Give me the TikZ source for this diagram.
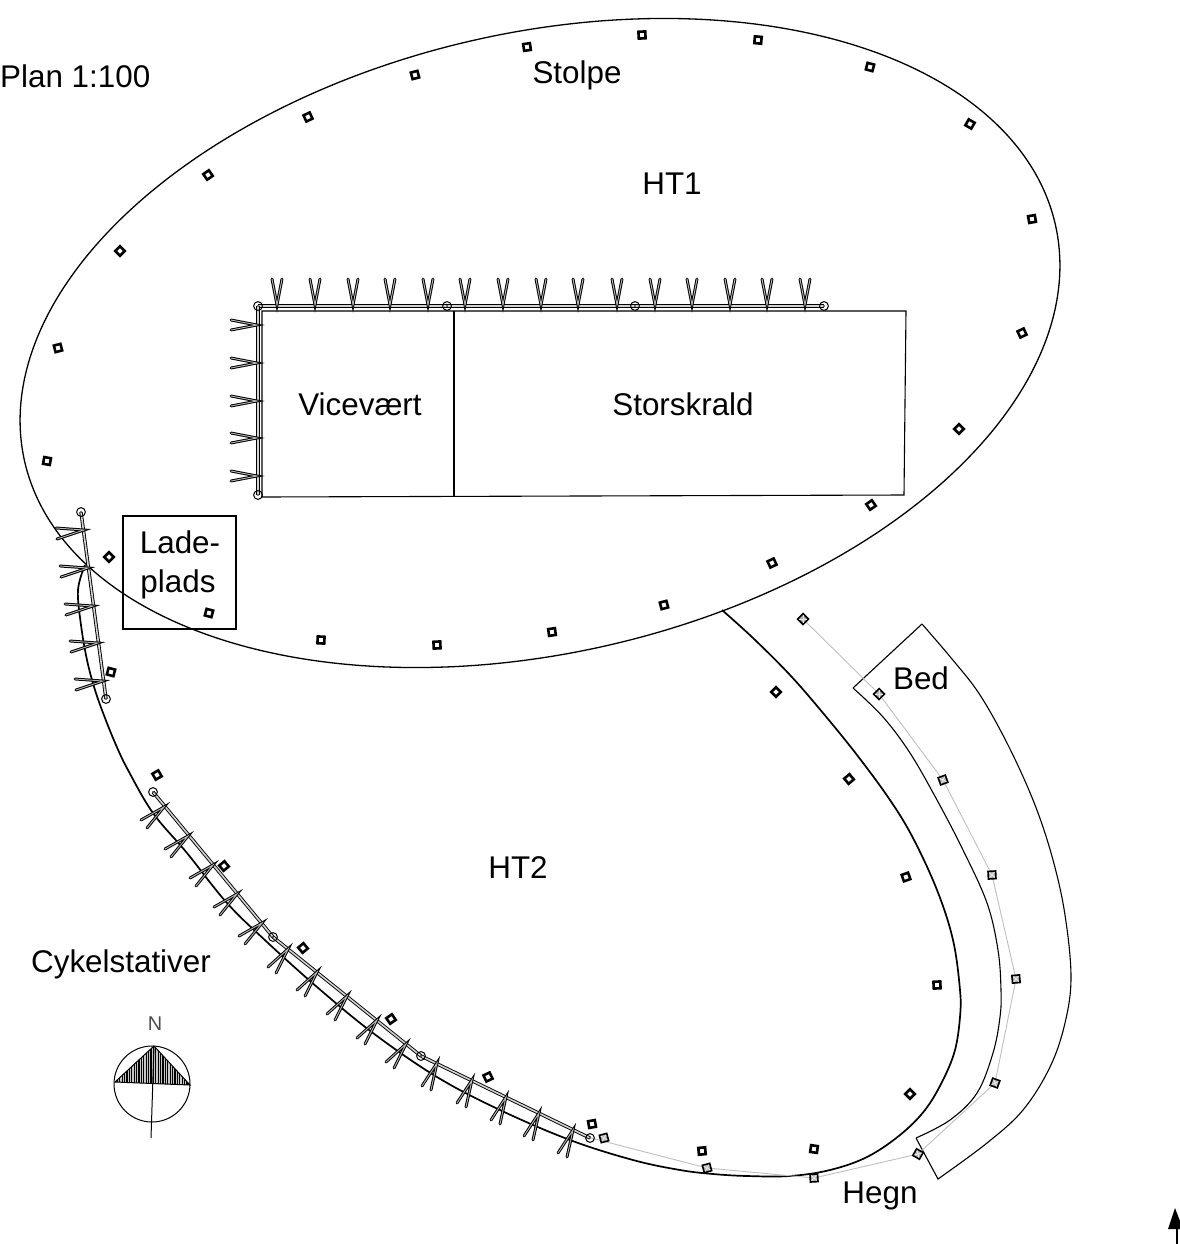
\documentclass[tikz,border=0pt]{standalone}
\usepackage{fontspec}
\setmainfont{Liberation Sans}
\tikzset{
  lbl/.style={anchor=base,inner sep=0pt,font=\fontsize{31.5}{36}\selectfont},
  outline/.style={line width=1.3bp,black},
  heavy/.style={line width=1.7bp,black},
  thin outline/.style={line width=1.1bp,black},
  rail/.style={double=gray!35,double distance=1.6bp,line width=0.9bp,black},
  rackarm/.style={double=gray!55,double distance=0.9bp,line width=1bp,black,line cap=round},
  railend/.style={line width=1bp,black},
  stolpe/.style={line width=2.6bp,black},
  fence/.style={line width=0.9bp,gray!50},
}
\newcommand{\stolpemark}[3]{\draw[stolpe,shift={(#1,#2)},rotate=#3] (-3.4,-3.4) rectangle (3.4,3.4);}
\newcommand{\fencemark}[3]{\begin{scope}[shift={(#1,#2)},rotate=#3]
  \draw[line width=1.6bp,black,fill=gray!60] (-3.8,-3.8) rectangle (3.8,3.8);
  \draw[line width=1bp,gray!20] (-2.6,-2.6) -- (2.6,2.6) (-2.6,2.6) -- (2.6,-2.6);
\end{scope}}
\newcommand{\railmark}[2]{\draw[railend,fill=none] (#1,#2) circle (4.4); \fill (#1,#2) circle (0.9);}
\begin{document}
\begin{tikzpicture}[x=1bp,y=-1bp]
\useasboundingbox[fill=white] (0,0) rectangle (1180,1244);
% HT1
\draw[outline] plot[variable=\t,domain=0:360,samples=200,smooth]
  ({540+529*cos(\t)*0.974+310*sin(\t)*0.225},{343-529*cos(\t)*0.225+310*sin(\t)*0.974}) -- cycle;
% HT2
\draw[heavy] plot[smooth,tension=0.6] coordinates {(722,610) (753,638) (790,675) (823,713) (857,755) (890,800) (913,838) (937,890) (953,940) (960,990) (960,1017) (955,1050) (943,1080) (925,1110) (900,1135) (867,1157) (830,1170) (790,1176) (747,1176) (713,1174) (680,1170) (633,1160) (570,1140) (500,1110) (437,1077) (373,1033) (317,987) (267,942) (227,903) (187,853) (153,813) (128,770) (116,745) (105,718) (95,690) (87,660) (81,625) (78,590) (85,565)};
% Bed
\draw[thin outline] (853,688) -- (922,624) plot[smooth,tension=0.6] coordinates {(922,624) (952,659) (980,695) (1009,747) (1035,805) (1053,860) (1065,915) (1071,977) (1065,1023) (1050,1067) (1023,1110) (987,1143) (938,1179)} -- (916,1138) plot[smooth,tension=0.6] coordinates {(916,1138) (950,1120) (977,1093) (993,1053) (1000,1017) (1001,990) (998,950) (987,903) (963,850) (937,800) (910,753) (883,717) (853,688)};
% buildings
\draw[thin outline] (262,311) -- (906,311) -- (904,495) -- (262,497) -- cycle;
\draw[heavy] (454,311) -- (454,497);
\draw[outline] (123,516) rectangle (236,629);
% fence
\draw[fence] (591,1138) -- (707,1168) -- (814,1178) -- (918,1154) -- (995,1083) -- (1016,979) -- (992,875) -- (943,780) -- (879,694) -- (803,619);
\foreach \x/\y/\a in {604/1138/15,707/1168/15,814/1178/3,918/1154/-30,995/1083/-20,1016/979/5,992/875/3,943/780/20,879/694/45,803/619/45}
  {\fencemark{\x}{\y}{\a}}
% poles
\foreach \x/\y/\a in {527/47/8,642/35/3,758/40/-5,870/67/-15,970/124/-30,1032/219/10,1022/333/25,959/429/45,871/505/35,772/563/25,664/605/15,552/632/8,437/645/3,321/640/-3,209/613/-15,109/557/-45,47/461/-10,58/348/15,120/251/45,208/175/35,308/117/25,415/75/15,776/692/45,849/779/40,906/877/20,937/985/3,910/1094/45,814/1149/-8,702/1151/5,592/1124/10,488/1077/25,391/1019/35,303/948/40,224/866/40,157/775/30,111/672/-15}
  {\stolpemark{\x}{\y}{\a}}
% rails
\draw[rail] (258,306) -- (824,306);
\draw[rail] (258,306) -- (258,495);
\draw[rail] (81,512) -- (106,699);
\draw[rail] (153,792) -- (273,937);
\draw[rail] (273,937) -- (421,1056);
\draw[rail] (421,1056) -- (590,1138);
% racks
\foreach \x in {277,315,353,390,428,465,503,541,578,617,655,692,730,767,805}
  {\draw[rackarm] (\x-5,279) -- (\x,305) -- (\x+5,279);}
\foreach \y in {325,363,401,438,476}
  {\draw[rackarm] (231,\y-5) -- (257,\y) -- (231,\y+5);}
\foreach \x/\y in {84/530,88/568,93/606,98/643,103/681}
  {\draw[rackarm] (\x-28,\y-2) -- (\x,\y) -- (\x-27,\y+9);}
\foreach \x/\y in {164/807,188/836,213/865,237/894,262/923}
  {\draw[rackarm] (\x-23,\y+13) -- (\x,\y) -- (\x-17,\y+21);}
\foreach \x/\y in {288/949,317/972,347/996,377/1020,406/1044}
  {\draw[rackarm] (\x-20,\y+18) -- (\x,\y) -- (\x-12,\y+24);}
\foreach \x/\y in {437/1063,472/1080,506/1097,539/1113,573/1130}
  {\draw[rackarm] (\x-15,\y+23) -- (\x,\y) -- (\x-6,\y+27);}
\foreach \x/\y in {258/306,447/306,635/306,824/306,258/495,81/512,106/699,153/792,273/937,421/1056,590/1138}
  {\railmark{\x}{\y}}
% compass
\begin{scope}
\clip (154,1046) -- (115,1082) -- (190,1085) -- cycle;
\fill[gray!45] (110,1040) rectangle (195,1090);
\foreach \i in {0,...,32} {\draw[line width=1.2bp,black] (115+\i*2.4,1040) -- (115+\i*2.4,1090);}
\end{scope}
\draw[line width=1bp] (154,1046) -- (115,1082) -- (190,1085) -- cycle;
\draw[line width=1bp] (152,1084) circle (38);
\draw[line width=1bp] (154,1046) -- (151,1138);
\node[anchor=base,inner sep=0pt,text=black!70,font=\fontsize{20}{22}\selectfont] (north) at (155,1030) {N};
% north arrow
\fill (1175,1208) -- (1168,1229) -- (1183,1229) -- cycle;
\draw[line width=2bp] (1176.5,1229) -- (1176.5,1244);
% labels
\node[lbl,anchor=base west] (plan) at (0,87) {Plan 1:100};
\node[lbl] (stolpetxt) at (577,83) {Stolpe};
\node[lbl] (ht1) at (672,194) {HT1};
\node[lbl] (vice) at (360,415) {Vicevært};
\node[lbl] (stor) at (683,415) {Storskrald};
\node[lbl] (lade) at (180,553) {Lade-};
\node[lbl] (plads) at (178,592) {plads};
\node[lbl] (bed) at (921,689) {Bed};
\node[lbl] (ht2) at (518,878) {HT2};
\node[lbl] (cykel) at (121,972) {Cykelstativer};
\node[lbl] (hegn) at (880,1203) {Hegn};
\end{tikzpicture}
\end{document}
